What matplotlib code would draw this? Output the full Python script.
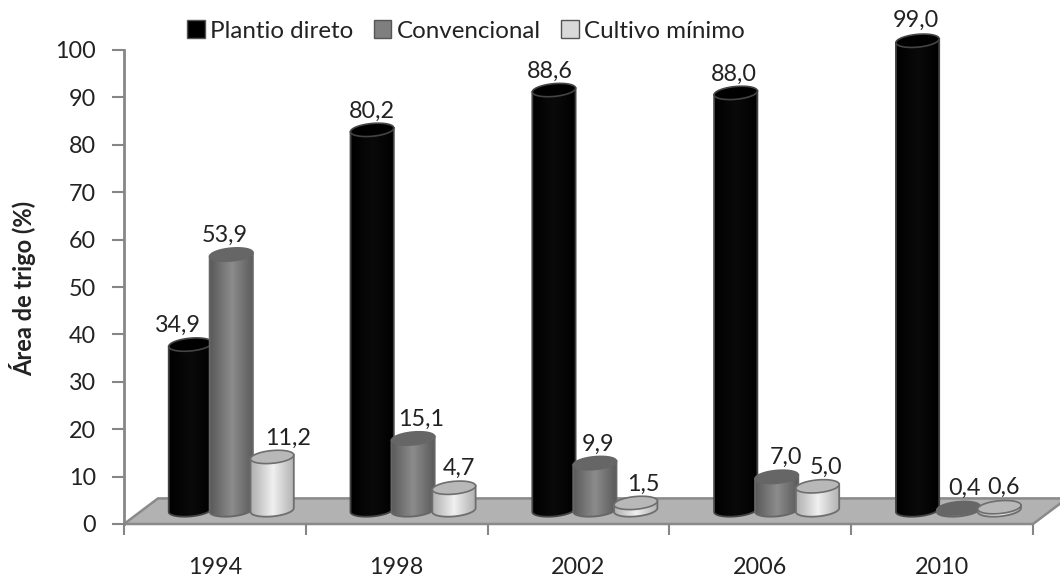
"""Cultivation systems in wheat area, drawn as 3D-looking cylinders."""

import matplotlib

matplotlib.use("Agg")
import matplotlib.pyplot as plt
import numpy as np
from matplotlib.colors import LinearSegmentedColormap
from matplotlib.patches import Patch, Polygon

years = ["1994", "1998", "2002", "2006", "2010"]
series_names = ["Plantio direto", "Convencional", "Cultivo mínimo"]
plantio_direto = [34.9, 80.2, 88.6, 88.0, 99.0]
convencional = [53.9, 15.1, 9.9, 7.0, 0.4]
cultivo_minimo = [11.2, 4.7, 1.5, 5.0, 0.6]
value_labels = [
    ["34,9", "80,2", "88,6", "88,0", "99,0"],
    ["53,9", "15,1", "9,9", "7,0", "0,4"],
    ["11,2", "4,7", "1,5", "5,0", "0,6"],
]

# label offsets from the top of each cylinder, in pixels
label_dx = [[-12, 0, -4, -2, -2], [-6, 8, 3, 9, 6], [16, 5, 8, 8, 4]]
label_dy = [19, 19, 19, 19, 20]

BASE = 2.95  # floor sits below the bars' base in the 3D projection
HALF_W = 0.119
CAP_H = 1.35
TILT = 0.4  # how much the cap rises to the right, value units per half width
OFFSETS = [-0.225, 0.0, 0.225]
SHIFT = 0.59
FONT_SIZE = 16.8

body_colors = [
    ["#000000", "#0a0a0a", "#000000"],
    ["#5a5a5a", "#8c8c8c", "#5a5a5a"],
    ["#b0b0b0", "#f0f0f0", "#b0b0b0"],
]
cap_colors = ["#000000", "#666666", "#b8b8b8"]
edge_colors = ["#444444", "#666666", "#6e6e6e"]
legend_colors = ["#000000", "#7f7f7f", "#d9d9d9"]

plt.rcParams["font.family"] = ["Lato", "DejaVu Sans"]
TEXT = "#222222"
AXIS = "#868686"


def cap_points(center, level, n=60):
    angle = np.linspace(0, 2 * np.pi, n)
    xs = center + HALF_W * np.cos(angle)
    ys = level + CAP_H * np.sin(angle) + TILT * np.cos(angle)
    return xs, ys


def draw_cylinder(ax, center, value, series, order):
    # body outline: down the left side, round the bottom, back up the right side
    angle = np.linspace(np.pi, 2 * np.pi, 40)
    bottom_x = center + HALF_W * np.cos(angle)
    bottom_y = BASE + CAP_H * np.sin(angle) + TILT * np.cos(angle)
    top_y = BASE + value
    outline = np.column_stack(
        [
            np.concatenate([bottom_x, [center + HALF_W, center - HALF_W]]),
            np.concatenate([bottom_y, [top_y + TILT, top_y - TILT]]),
        ]
    )
    body = Polygon(outline, closed=True, facecolor="none", edgecolor=edge_colors[series],
                   linewidth=1.3, clip_on=False, zorder=order + 0.2)
    ax.add_patch(body)

    cmap = LinearSegmentedColormap.from_list("shade", body_colors[series])
    gradient = np.linspace(0, 1, 64).reshape(1, -1)
    image = ax.imshow(
        gradient, cmap=cmap, aspect="auto", zorder=order + 0.1,
        extent=(center - HALF_W, center + HALF_W, bottom_y.min(), top_y + TILT),
    )
    image.set_clip_path(body)
    image.set_clip_box(ax.figure.bbox)

    xs, ys = cap_points(center, top_y)
    cap = Polygon(np.column_stack([xs, ys]), closed=True, facecolor=cap_colors[series],
                  edgecolor=edge_colors[series], linewidth=1.2, clip_on=False,
                  zorder=order + 0.3)
    ax.add_patch(cap)


figure = plt.figure(figsize=(10.6, 5.78), dpi=100)
ax = figure.add_axes([124 / 1060, 54 / 578, 909 / 1060, 474 / 578])

# floor of the 3D chart
floor = Polygon(
    [(0, 0), (5, 0), (5 + 34 / 181.8, 5.4), (34 / 181.8, 5.4)],
    closed=True, facecolor="#b2b2b2", edgecolor="#8a8a8a", linewidth=1.8,
    clip_on=False, zorder=1,
)
ax.add_patch(floor)

all_series = [plantio_direto, convencional, cultivo_minimo]
order = 2
for i in range(len(years)):
    for s, values in enumerate(all_series):
        center = i + SHIFT + OFFSETS[s]
        draw_cylinder(ax, center, values[i], s, order)
        order += 1
        ax.annotate(
            value_labels[s][i], (center, BASE + values[i]),
            xytext=(label_dx[s][i], label_dy[i]), textcoords="offset pixels",
            ha="center", va="center", fontsize=FONT_SIZE, color=TEXT,
            annotation_clip=False, zorder=100,
        )

ax.set_xlim(0, 5)
ax.set_ylim(0, 100)
ax.set_yticks(range(0, 101, 10))
ax.set_xticks(range(6))
ax.set_xticklabels([])
ax.set_xticks(np.arange(5) + 0.5, labels=years, minor=True)
ax.tick_params(axis="x", which="major", length=8, width=1.5, color=AXIS)
ax.tick_params(axis="x", which="minor", length=0, pad=24, labelsize=FONT_SIZE, labelcolor=TEXT)
ax.tick_params(axis="y", length=9, width=1.5, color=AXIS, pad=11, labelsize=FONT_SIZE, labelcolor=TEXT)
for name in ["top", "right", "bottom"]:
    ax.spines[name].set_visible(False)
ax.spines["left"].set_color(AXIS)
ax.spines["left"].set_linewidth(2)
ax.set_facecolor("none")

figure.text(23 / 1060, 1 - 288 / 578, "Área de trigo (%)", rotation=90, ha="center",
            va="center", fontsize=17, fontweight="bold", color=TEXT)

handles = [Patch(facecolor=c, edgecolor="#555555", linewidth=1) for c in legend_colors]
figure.legend(
    handles, series_names, loc="center", bbox_to_anchor=(466 / 1060, 1 - 31 / 578), ncol=3,
    frameon=False, fontsize=17.4, labelcolor=TEXT, handlelength=0.72, handleheight=0.72,
    handletextpad=0.22, columnspacing=0.85,
)

figure.savefig("out.png", dpi=100)
plt.close(figure)
